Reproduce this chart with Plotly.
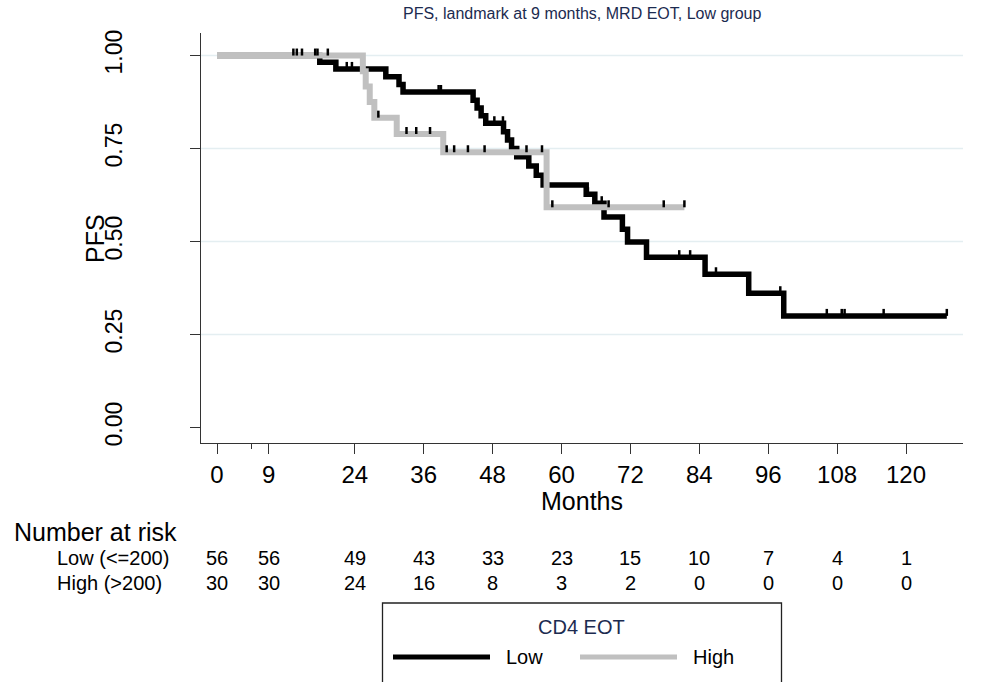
import plotly.graph_objects as go

# ---------------- data ----------------
title_text = "PFS, landmark at 9 months, MRD EOT, Low group"
group_names = ["Low", "High"]
risk_row_labels = ["Low (<=200)", "High (>200)"]

# Low (<=200) group: event times (months) and survival after each event
low_event_t = [17.9, 20.7, 29.4, 31.7, 32.4, 44.6, 45.3, 46.0, 46.8, 49.9, 50.6,
               51.3, 52.2, 54.3, 55.6, 56.8, 64.3, 65.8, 67.4, 70.6, 71.5, 74.8,
               85.0, 92.6, 98.7]
low_event_s = [0.982, 0.964, 0.943, 0.922, 0.902, 0.880, 0.859, 0.838, 0.818, 0.795,
               0.773, 0.750, 0.728, 0.703, 0.678, 0.652, 0.627, 0.603, 0.566, 0.533,
               0.499, 0.458, 0.412, 0.361, 0.300]
low_end = 127.1
low_censor_t = [22.6, 23.5, 38.6, 39.0, 48.3, 49.8, 64.6, 67.0, 80.5, 82.4, 86.9,
                98.1, 106.2, 108.8, 109.3, 116.1, 127.1]

# High (>200) group
high_event_t = [25.4, 25.9, 26.6, 27.4, 31.3, 39.4, 57.4]
high_event_s = [0.958, 0.917, 0.875, 0.833, 0.789, 0.740, 0.592]
high_end = 81.4
high_censor_t = [13.3, 13.9, 14.8, 17.1, 17.5, 19.3, 28.1, 33.0, 34.7, 37.1, 40.0,
                 41.3, 43.7, 46.6, 53.9, 56.6, 58.4, 68.2, 77.8, 81.4]

# axes
x_tickvals = [0, 9, 24, 36, 48, 60, 72, 84, 96, 108, 120]
x_ticktext = [str(v) for v in x_tickvals]
x_minor_ticks = [6]
y_tickvals = [0, 0.25, 0.5, 0.75, 1.0]
y_ticktext = ["0.00", "0.25", "0.50", "0.75", "1.00"]
y_gridvals = [0.25, 0.5, 0.75, 1.0]

# number at risk
risk_times = [0, 9, 24, 36, 48, 60, 72, 84, 96, 108, 120]
risk_low = [56, 56, 49, 43, 33, 23, 15, 10, 7, 4, 1]
risk_high = [30, 30, 24, 16, 8, 3, 2, 0, 0, 0, 0]

# ---------------- style ----------------
FONT = "Liberation Sans, Arial, sans-serif"
NAVY = "#1c2b50"
AXC = "#333333"
BLACK = "#000000"
GRAY = "#c0c0c0"
GRID = "#e4eef1"
BIG = 25
XTICK = 24
YTICK = 23
MID = 20

W, H = 981, 682
L, R, T, B = 201, 963, 33, 443
X_RANGE = [-2.787, 129.92]
Y_RANGE = [-0.0417, 1.0606]
PX_PER_Y = (B - T) / (Y_RANGE[1] - Y_RANGE[0])
TICK_H = 7.0 / PX_PER_Y


def pxx(xp):
    return (xp - L) / (R - L)


def pxy(yp):
    return (B - yp) / (B - T)


def step_xy(times, surv, end):
    xs = [0] + list(times) + [end]
    ys = [1.0] + list(surv) + [surv[-1]]
    return xs, ys


def surv_at(t, times, surv):
    s = 1.0
    for ti, si in zip(times, surv):
        if ti <= t:
            s = si
    return s


fig = go.Figure()

lx, ly = step_xy(low_event_t, low_event_s, low_end)
hx, hy = step_xy(high_event_t, high_event_s, high_end)

fig.add_trace(go.Scatter(x=lx, y=ly, mode="lines", line=dict(color=BLACK, width=5.5, shape="hv"),
                         name=group_names[0], showlegend=False, hoverinfo="skip"))
fig.add_trace(go.Scatter(x=hx, y=hy, mode="lines", line=dict(color=GRAY, width=6, shape="hv"),
                         name=group_names[1], showlegend=False, hoverinfo="skip"))

# censor ticks
cx, cy = [], []
for times, ets, ess in [(low_censor_t, low_event_t, low_event_s),
                        (high_censor_t, high_event_t, high_event_s)]:
    for c in times:
        s = surv_at(c, ets, ess)
        cx += [c, c, None]
        cy += [s, s + TICK_H, None]
fig.add_trace(go.Scatter(x=cx, y=cy, mode="lines", line=dict(color=BLACK, width=2.5),
                         showlegend=False, hoverinfo="skip"))

shapes = []
# horizontal gridlines
for g in y_gridvals:
    shapes.append(dict(type="line", xref="paper", yref="y", x0=0, x1=1, y0=g, y1=g,
                       line=dict(color=GRID, width=1.5), layer="below"))

annotations = []
annotations.append(dict(text=title_text, xref="paper", yref="paper", x=pxx(582), y=pxy(14),
                        showarrow=False, font=dict(family=FONT, size=16, color=NAVY),
                        xanchor="center", yanchor="middle"))
annotations.append(dict(text="Months", xref="paper", yref="paper", x=pxx(582), y=pxy(501),
                        showarrow=False, font=dict(family=FONT, size=BIG, color=BLACK),
                        xanchor="center", yanchor="middle"))
annotations.append(dict(text="PFS", xref="paper", yref="paper", x=pxx(95), y=pxy(238),
                        showarrow=False, textangle=-90, font=dict(family=FONT, size=BIG, color=BLACK),
                        xanchor="center", yanchor="middle"))
annotations.append(dict(text="Number at risk", xref="paper", yref="paper", x=pxx(12), y=pxy(532),
                        showarrow=False, font=dict(family=FONT, size=BIG, color=BLACK),
                        xanchor="left", yanchor="middle"))
for lab, ypix in zip(risk_row_labels, [558, 583]):
    annotations.append(dict(text=lab, xref="paper", yref="paper", x=pxx(55), y=pxy(ypix),
                            showarrow=False, font=dict(family=FONT, size=MID, color=BLACK),
                            xanchor="left", yanchor="middle"))
for vals, ypix in [(risk_low, 558), (risk_high, 583)]:
    for t, v in zip(risk_times, vals):
        annotations.append(dict(text=str(v), xref="x", yref="paper", x=t, y=pxy(ypix),
                                showarrow=False, font=dict(family=FONT, size=MID, color=BLACK),
                                xanchor="center", yanchor="middle"))

# legend box (drawn manually)
shapes.append(dict(type="rect", xref="paper", yref="paper", x0=pxx(382.5), x1=pxx(781.5),
                   y0=pxy(690), y1=pxy(603), line=dict(color="#222222", width=1.3),
                   fillcolor="white", layer="above"))
annotations.append(dict(text="CD4 EOT", xref="paper", yref="paper", x=pxx(581), y=pxy(627),
                        showarrow=False, font=dict(family=FONT, size=MID, color=NAVY),
                        xanchor="center", yanchor="middle"))
shapes.append(dict(type="line", xref="paper", yref="paper", x0=pxx(393), x1=pxx(490),
                   y0=pxy(657), y1=pxy(657), line=dict(color=BLACK, width=5)))
shapes.append(dict(type="line", xref="paper", yref="paper", x0=pxx(580), x1=pxx(677),
                   y0=pxy(657), y1=pxy(657), line=dict(color=GRAY, width=5)))
annotations.append(dict(text=group_names[0], xref="paper", yref="paper", x=pxx(504), y=pxy(657),
                        showarrow=False, font=dict(family=FONT, size=MID, color=BLACK),
                        xanchor="left", yanchor="middle"))
annotations.append(dict(text=group_names[1], xref="paper", yref="paper", x=pxx(691), y=pxy(657),
                        showarrow=False, font=dict(family=FONT, size=MID, color=BLACK),
                        xanchor="left", yanchor="middle"))

fig.update_layout(
    width=W, height=H,
    margin=dict(l=L, r=W - R, t=T, b=H - B, pad=0),
    paper_bgcolor="white", plot_bgcolor="white",
    showlegend=False,
    font=dict(family=FONT, color=BLACK),
    shapes=shapes, annotations=annotations,
    xaxis=dict(range=X_RANGE, tickmode="array", tickvals=x_tickvals, ticktext=x_ticktext,
               ticks="outside", ticklen=10, tickwidth=1.3, tickcolor=AXC,
               showline=True, linecolor=AXC, linewidth=1.3, showgrid=False, zeroline=False,
               tickfont=dict(family=FONT, size=XTICK, color=BLACK), ticklabelstandoff=0,
               minor=dict(tickmode="array", tickvals=x_minor_ticks, ticks="outside", ticklen=5,
                          tickwidth=1.3, tickcolor=AXC, showgrid=False)),
    yaxis=dict(range=Y_RANGE, tickmode="array", tickvals=y_tickvals, ticktext=y_ticktext,
               tickangle=-90, ticks="outside", ticklen=10, tickwidth=1.3, tickcolor=AXC,
               showline=True, linecolor=AXC, linewidth=1.3, showgrid=False, zeroline=False,
               tickfont=dict(family=FONT, size=YTICK, color=BLACK), ticklabelstandoff=59),
)

fig.write_html("out.html", config={"displayModeBar": False},
               post_script="document.body.style.margin='0';document.body.style.padding='0';")
